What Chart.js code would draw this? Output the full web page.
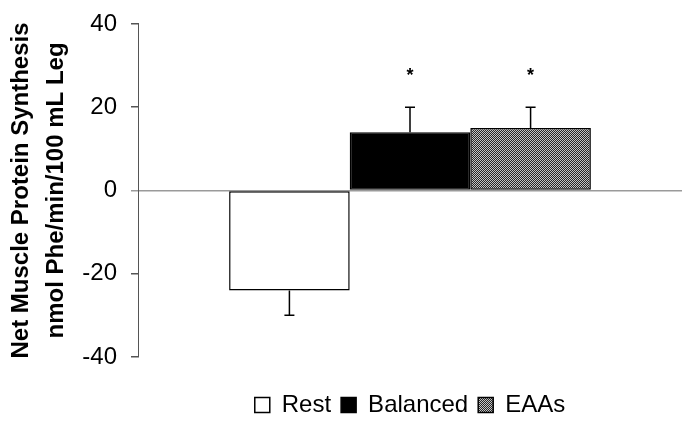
<!DOCTYPE html>
<html>
<head>
<meta charset="utf-8">
<script src="https://cdn.jsdelivr.net/npm/chart.js@4"></script>
<style>
  html, body { margin: 0; padding: 0; background: #fff; }
  #wrap { width: 682px; height: 423px; }
</style>
</head>
<body>
<div id="wrap"><canvas id="c" width="682" height="423"></canvas></div>
<script>
// hodnoty
const groups = ['Rest', 'Balanced', 'EAAs'];
const means = [-24, 14, 15];
const errors = [-30, 20, 20];      // konec chybové úsečky
const significant = [false, true, true];
const starLevel = 27.5;
const yTicks = [-40, -20, 0, 20, 40];
const yTitle = ['Net Muscle Protein Synthesis', 'nmol Phe/min/100 mL Leg'];

const FONT = '"Liberation Sans", Arial, sans-serif';

function hatchPattern() {
  const t = document.createElement('canvas');
  t.width = 4; t.height = 4;
  const g = t.getContext('2d');
  g.fillStyle = '#c4c4c4';
  g.fillRect(0, 0, 4, 4);
  g.fillStyle = '#262626';
  for (let i = 0; i < 4; i++) {
    g.fillRect(i, 3 - i, 1, 1);
    g.fillRect((i + 2) % 4, 3 - i, 1, 1);
  }
  return g.createPattern(t, 'repeat');
}

const ctx = document.getElementById('c').getContext('2d');
const fills = ['#ffffff', '#000000', hatchPattern()];

// chybové úsečky a hvězdičky
const errorBars = {
  id: 'errorBars',
  afterDatasetsDraw(chart) {
    const c = chart.ctx;
    const y = chart.scales.y;
    c.save();
    c.strokeStyle = '#000';
    c.lineWidth = 1.5;
    chart.data.datasets.forEach((ds, i) => {
      const bar = chart.getDatasetMeta(i).data[0];
      const y0 = y.getPixelForValue(means[i]);
      const y1 = y.getPixelForValue(errors[i]);
      c.beginPath();
      c.moveTo(bar.x, y0);
      c.lineTo(bar.x, y1);
      c.moveTo(bar.x - 5, y1);
      c.lineTo(bar.x + 5, y1);
      c.stroke();
      if (significant[i]) {
        c.fillStyle = '#000';
        c.font = 'bold 18px ' + FONT;
        c.textAlign = 'center';
        c.textBaseline = 'middle';
        c.fillText('*', bar.x, y.getPixelForValue(starLevel));
      }
    });
    c.restore();
  }
};

new Chart(ctx, {
  type: 'bar',
  data: {
    labels: [''],
    datasets: groups.map((g, i) => ({
      label: g,
      data: [means[i]],
      backgroundColor: fills[i],
      borderColor: '#000',
      borderWidth: 1.5,
      borderSkipped: false,
    })),
  },
  options: {
    responsive: false,
    animation: false,
    categoryPercentage: 0.665,
    barPercentage: 1,
    layout: { padding: { top: 10, right: 0, bottom: 4, left: 0 } },
    scales: {
      x: {
        display: true,
        grid: { display: false },
        border: { display: false },
        ticks: { display: false },
        afterFit: (s) => { s.height = 26; },
      },
      y: {
        min: -40,
        max: 40,
        afterBuildTicks: (axis) => { axis.ticks = yTicks.map((v) => ({ value: v })); },
        afterFit: (s) => { s.width = 138; },
        border: { color: '#555', width: 1 },
        grid: {
          color: (c) => (c.tick && c.tick.value === 0 ? '#9a9a9a' : 'transparent'),
          lineWidth: 1.5,
          tickColor: (c) => (c.tick && c.tick.value === 0 ? '#9a9a9a' : '#555'),
          tickLength: 7,
        },
        ticks: {
          color: '#000',
          padding: 14,
          font: { family: FONT, size: 24, lineHeight: 0.83 },
        },
        title: {
          display: true,
          text: yTitle,
          color: '#000',
          padding: { top: 4, bottom: 0 },
          font: { family: FONT, size: 24, weight: 'bold', lineHeight: 1.45 },
        },
      },
    },
    plugins: {
      legend: {
        position: 'bottom',
        fullSize: false,
        maxHeight: 36,
        labels: {
          color: '#000',
          boxWidth: 15,
          boxHeight: 15,
          padding: 10,
          font: { family: FONT, size: 24 },
        },
      },
      tooltip: { enabled: false },
    },
  },
  plugins: [errorBars],
});
</script>
</body>
</html>
